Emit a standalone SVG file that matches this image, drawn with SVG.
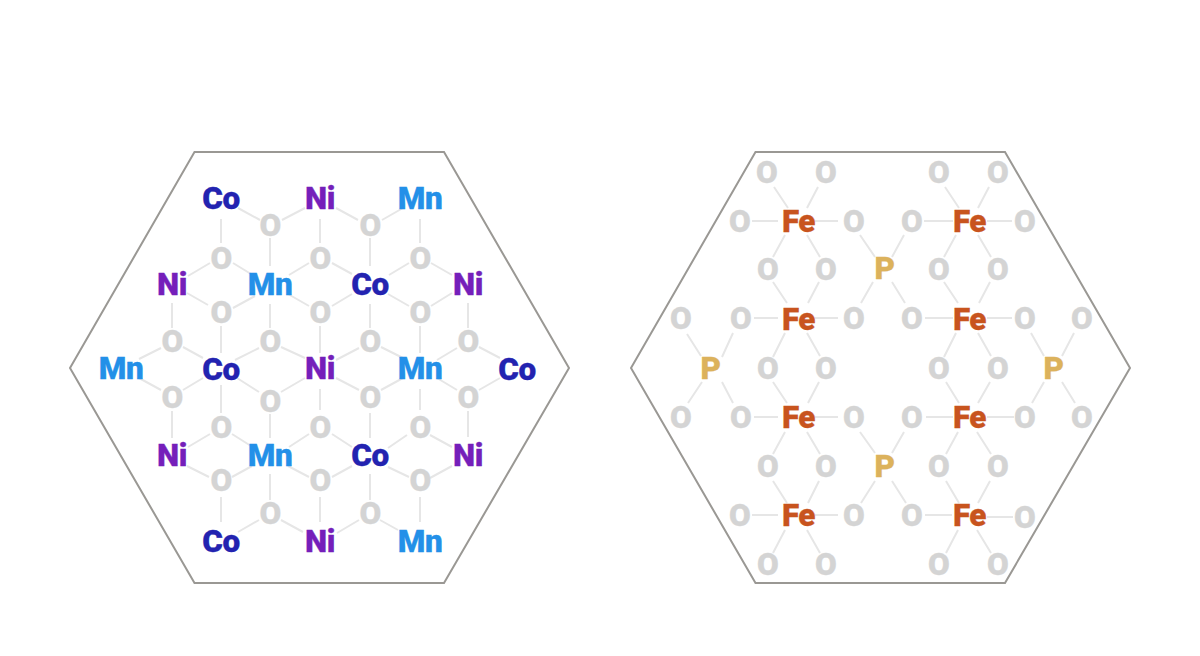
<svg xmlns="http://www.w3.org/2000/svg" width="1200" height="656" viewBox="0 0 1200 656">
<style>
text{font-family:Roboto,"Liberation Sans",sans-serif;font-weight:900;font-size:31.500px;letter-spacing:-0.500px;text-anchor:middle;stroke-width:0.300}
.hex{fill:#fff;stroke:#9a9894;stroke-width:2}
#connectors path{fill:none;stroke:#e6e6e6;stroke-width:2}
.o{fill:#d4d4d4;stroke:#d4d4d4}.co{fill:#2323b0;stroke:#2323b0}.ni{fill:#751fba;stroke:#751fba}.mn{fill:#2390e8;stroke:#2390e8}.fe{fill:#c8541e;stroke:#c8541e}.p{fill:#dcb25c;stroke:#dcb25c}
</style>
<rect width="1200" height="656" fill="#fff"/>
<polygon id="hex-left" class="hex" points="70,368 194.500,152 444,152 569,368 444,583 194.500,583"/>
<polygon id="hex-right" class="hex" points="631,368 755.500,152 1005,152 1130,368 1005,583 755.500,583"/>
<g id="connectors">
<path d="M238,208L260,220M282,220L305,208M336,208L358,220M382,220L403,208M221,219V243M320,219V243M420,219V243M270,238V266M370,238V266M210,263L188,276M233,263L251,274M309,263L289,275M332,263L352,274M409,263L389,275M431,263L452,275M187,293L208,305M255,296L233,308M288,294L309,306M352,294L332,306M388,294L409,306M452,293L431,306M172,303V328M270,304V328M370,304V328M468,303V328M221,326V353M320,326V353M420,326V353M161,348L139,359M183,347L203,358M259,348L235,360M281,347L305,358M359,348L336,360M381,347L403,358M457,348L437,360M479,347L500,358M139,378L161,390M203,378L183,390M237,378L259,392M305,378L281,392M336,378L359,390M403,378L381,390M437,378L457,390M500,378L479,390M221,385V413M320,389V410M420,389V410M172,411V438M270,414V438M370,413V438M468,411V437M210,434L188,447M232,434L251,446M309,434L289,447M332,434L352,447M407,435L388,448M430,435L452,447M187,466L209,477M252,466L232,477M288,466L309,477M352,466L332,477M388,467L409,477M452,466L430,478M221,497V522M320,497V522M420,497V522M270,474V500M370,474V500M259,520L238,532M281,520L303,532M337,533L359,520M380,520L398,530"/>
<path d="M774,187L788,208M818,187L807,208M945,187L959,208M989,187L978,208M752,221H778M815,221H838M924,221H953M987,221H1012M785,235L773,257M807,235L820,257M956,235L944,257M978,235L991,257M860,235L875,257M904,235L892,257M773,282L787,303M819,282L808,303M944,282L958,303M990,282L979,303M873,282L861,303M892,282L905,303M754,318H778M815,318H838M925,318H953M987,318H1012M1031,333L1044,356M1074,333L1062,356M687,334L701,356M733,333L722,357M785,333L773,357M807,333L820,356M956,333L944,357M978,333L991,356M773,382L787,403M819,382L808,403M946,382L959,403M990,382L978,403M702,382L688,403M722,382L733,403M1044,382L1032,403M1062,382L1075,403M754,417H778M815,417H838M926,417H953M987,417H1014M785,432L773,454M807,432L820,454M958,432L946,454M977,432L991,454M860,432L875,453M904,432L892,453M773,481L787,503M819,481L808,503M946,481L959,503M990,481L978,503M875,481L861,503M892,481L906,503M752,515H778M815,515H838M925,515H952M987,517H1013M785,530L773,553M807,530L820,553M958,530L946,553M977,530L991,553"/>
</g>
<g id="left-lattice" transform="translate(0,-0.500)">
<g id="l-co1"><text class="co" x="221" y="209">Co</text></g>
<g id="l-ni1"><text class="ni" x="320" y="209">Ni</text></g>
<g id="l-mn1"><text class="mn" x="420" y="209">Mn</text></g>
<g id="l-o1"><text class="o" x="270" y="236">O</text></g>
<g id="l-o2"><text class="o" x="370" y="236">O</text></g>
<g id="l-o3"><text class="o" x="221" y="269">O</text></g>
<g id="l-o4"><text class="o" x="320" y="269">O</text></g>
<g id="l-o5"><text class="o" x="420" y="269">O</text></g>
<g id="l-ni2"><text class="ni" x="172" y="295">Ni</text></g>
<g id="l-mn2"><text class="mn" x="270" y="295">Mn</text></g>
<g id="l-co2"><text class="co" x="370" y="295">Co</text></g>
<g id="l-ni3"><text class="ni" x="468" y="295">Ni</text></g>
<g id="l-o6"><text class="o" x="221" y="323">O</text></g>
<g id="l-o7"><text class="o" x="320" y="323">O</text></g>
<g id="l-o8"><text class="o" x="420" y="323">O</text></g>
<g id="l-o9"><text class="o" x="172" y="352">O</text></g>
<g id="l-o10"><text class="o" x="270" y="352">O</text></g>
<g id="l-o11"><text class="o" x="370" y="352">O</text></g>
<g id="l-o12"><text class="o" x="468" y="352">O</text></g>
<g id="l-mn3"><text class="mn" x="121" y="379">Mn</text></g>
<g id="l-co3"><text class="co" x="221" y="380">Co</text></g>
<g id="l-ni4"><text class="ni" x="320" y="379">Ni</text></g>
<g id="l-mn4"><text class="mn" x="420" y="379">Mn</text></g>
<g id="l-co4"><text class="co" x="517" y="380">Co</text></g>
<g id="l-o13"><text class="o" x="172" y="408">O</text></g>
<g id="l-o14"><text class="o" x="270" y="412">O</text></g>
<g id="l-o15"><text class="o" x="370" y="408">O</text></g>
<g id="l-o16"><text class="o" x="468" y="408">O</text></g>
<g id="l-o17"><text class="o" x="221" y="438">O</text></g>
<g id="l-o18"><text class="o" x="320" y="438">O</text></g>
<g id="l-o19"><text class="o" x="420" y="438">O</text></g>
<g id="l-ni5"><text class="ni" x="172" y="466">Ni</text></g>
<g id="l-mn5"><text class="mn" x="270" y="466">Mn</text></g>
<g id="l-co5"><text class="co" x="370" y="466">Co</text></g>
<g id="l-ni6"><text class="ni" x="468" y="466">Ni</text></g>
<g id="l-o20"><text class="o" x="221" y="491">O</text></g>
<g id="l-o21"><text class="o" x="320" y="491">O</text></g>
<g id="l-o22"><text class="o" x="420" y="491">O</text></g>
<g id="l-o23"><text class="o" x="270" y="524">O</text></g>
<g id="l-o24"><text class="o" x="370" y="524">O</text></g>
<g id="l-co6"><text class="co" x="221" y="552">Co</text></g>
<g id="l-ni7"><text class="ni" x="320" y="552">Ni</text></g>
<g id="l-mn6"><text class="mn" x="420" y="552">Mn</text></g>
</g>
<g id="right-lattice" transform="translate(0.500,-0.500)">
<g id="r-o1"><text class="o" x="766" y="183">O</text></g>
<g id="r-o2"><text class="o" x="825" y="183">O</text></g>
<g id="r-o3"><text class="o" x="938" y="183">O</text></g>
<g id="r-o4"><text class="o" x="997" y="183">O</text></g>
<g id="r-o5"><text class="o" x="739" y="232">O</text></g>
<g id="r-fe1"><text class="fe" x="798" y="232">Fe</text></g>
<g id="r-o6"><text class="o" x="853" y="232">O</text></g>
<g id="r-o7"><text class="o" x="911" y="232">O</text></g>
<g id="r-fe2"><text class="fe" x="969" y="232">Fe</text></g>
<g id="r-o8"><text class="o" x="1024" y="232">O</text></g>
<g id="r-o9"><text class="o" x="767" y="280">O</text></g>
<g id="r-o10"><text class="o" x="825" y="280">O</text></g>
<g id="r-p1"><text class="p" x="884" y="279">P</text></g>
<g id="r-o11"><text class="o" x="938" y="280">O</text></g>
<g id="r-o12"><text class="o" x="997" y="280">O</text></g>
<g id="r-o13"><text class="o" x="680" y="329">O</text></g>
<g id="r-o14"><text class="o" x="740" y="329">O</text></g>
<g id="r-fe3"><text class="fe" x="798" y="330">Fe</text></g>
<g id="r-o15"><text class="o" x="853" y="329">O</text></g>
<g id="r-o16"><text class="o" x="911" y="329">O</text></g>
<g id="r-fe4"><text class="fe" x="969" y="330">Fe</text></g>
<g id="r-o17"><text class="o" x="1024" y="329">O</text></g>
<g id="r-o18"><text class="o" x="1081" y="329">O</text></g>
<g id="r-p2"><text class="p" x="710" y="379">P</text></g>
<g id="r-o19"><text class="o" x="767" y="379">O</text></g>
<g id="r-o20"><text class="o" x="825" y="379">O</text></g>
<g id="r-o21"><text class="o" x="938" y="379">O</text></g>
<g id="r-o22"><text class="o" x="997" y="379">O</text></g>
<g id="r-p3"><text class="p" x="1053" y="379">P</text></g>
<g id="r-o23"><text class="o" x="680" y="428">O</text></g>
<g id="r-o24"><text class="o" x="740" y="428">O</text></g>
<g id="r-fe5"><text class="fe" x="798" y="428">Fe</text></g>
<g id="r-o25"><text class="o" x="853" y="428">O</text></g>
<g id="r-o26"><text class="o" x="911" y="428">O</text></g>
<g id="r-fe6"><text class="fe" x="969" y="428">Fe</text></g>
<g id="r-o27"><text class="o" x="1024" y="428">O</text></g>
<g id="r-o28"><text class="o" x="1081" y="428">O</text></g>
<g id="r-o29"><text class="o" x="767" y="477">O</text></g>
<g id="r-o30"><text class="o" x="825" y="477">O</text></g>
<g id="r-p4"><text class="p" x="884" y="477">P</text></g>
<g id="r-o31"><text class="o" x="938" y="477">O</text></g>
<g id="r-o32"><text class="o" x="997" y="477">O</text></g>
<g id="r-o33"><text class="o" x="739" y="526">O</text></g>
<g id="r-fe7"><text class="fe" x="798" y="526">Fe</text></g>
<g id="r-o34"><text class="o" x="853" y="526">O</text></g>
<g id="r-o35"><text class="o" x="911" y="526">O</text></g>
<g id="r-fe8"><text class="fe" x="969" y="526">Fe</text></g>
<g id="r-o36"><text class="o" x="1024" y="528">O</text></g>
<g id="r-o37"><text class="o" x="767" y="575">O</text></g>
<g id="r-o38"><text class="o" x="825" y="575">O</text></g>
<g id="r-o39"><text class="o" x="938" y="575">O</text></g>
<g id="r-o40"><text class="o" x="997" y="575">O</text></g>
</g>
</svg>
